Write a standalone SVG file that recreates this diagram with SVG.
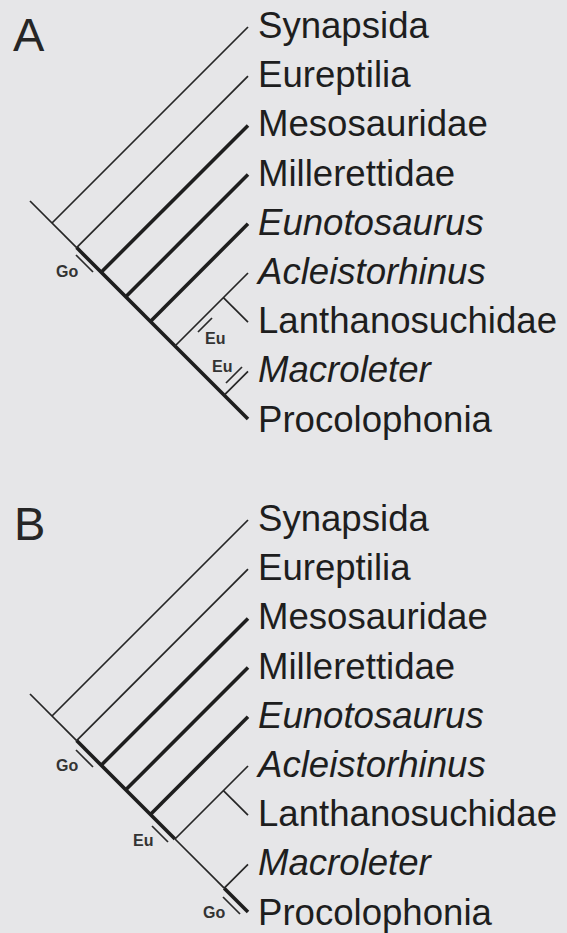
<svg xmlns="http://www.w3.org/2000/svg" width="567" height="933" viewBox="0 0 567 933">
<style>
.bg{fill:#e6e6e8}
.thin{stroke:#262626;stroke-width:1.7;fill:none;stroke-linecap:butt}
.thick{stroke:#1e1e1e;stroke-width:3.6;fill:none;stroke-linecap:butt}
.tick{stroke:#2a2a2a;stroke-width:1.7;fill:none}
.lab{font-family:"Liberation Sans",Arial,sans-serif;font-size:36.6px;fill:#1e1e1e}
.it{font-style:italic}
.panel{font-family:"Liberation Sans",Arial,sans-serif;font-size:47px;fill:#262626}
.mk{font-family:"Liberation Sans",Arial,sans-serif;font-size:16px;font-weight:bold;fill:#333}
</style>
<rect class="bg" x="0" y="0" width="567" height="933"/>

<!-- Panel A -->
<g id="panelA">
<text id="labelA" class="panel" x="13" y="51">A</text>
<g id="A-connectors">
<line class="thin" x1="30" y1="201" x2="76.6" y2="247.6"/>
<line class="thick" x1="76.6" y1="247.6" x2="248" y2="419"/>
<line class="thin" x1="52" y1="223" x2="248" y2="27"/>
<line class="thin" x1="76.6" y1="247.6" x2="248" y2="76.2"/>
<line class="thick" x1="101.2" y1="272.2" x2="248" y2="125.4"/>
<line class="thick" x1="125.8" y1="296.8" x2="248" y2="174.6"/>
<line class="thick" x1="150.4" y1="321.4" x2="248" y2="223.8"/>
<line class="thin" x1="175" y1="346" x2="248" y2="273"/>
<line class="thin" x1="223.4" y1="297.6" x2="248" y2="322.2"/>
<line class="thin" x1="224.2" y1="395.2" x2="248" y2="371.4"/>
</g>
<g id="A-marks">
<g id="A-go"><line class="tick" x1="76" y1="255" x2="93" y2="272"/><text class="mk" x="56" y="277">Go</text></g>
<g id="A-eu1"><line class="tick" x1="198" y1="332" x2="212" y2="318"/><text class="mk" x="205" y="344">Eu</text></g>
<g id="A-eu2"><line class="tick" x1="226" y1="383" x2="242" y2="367"/><text class="mk" x="212" y="372">Eu</text></g>
</g>
<g id="A-synapsida"><text class="lab" x="258" y="38">Synapsida</text></g>
<g id="A-eureptilia"><text class="lab" x="258" y="87.2">Eureptilia</text></g>
<g id="A-mesosauridae"><text class="lab" x="258" y="136.4">Mesosauridae</text></g>
<g id="A-millerettidae"><text class="lab" x="258" y="185.6">Millerettidae</text></g>
<g id="A-eunotosaurus"><text class="lab it" x="258" y="234.8">Eunotosaurus</text></g>
<g id="A-acleistorhinus"><text class="lab it" x="258" y="284">Acleistorhinus</text></g>
<g id="A-lanthanosuchidae"><text class="lab" x="258" y="333.2">Lanthanosuchidae</text></g>
<g id="A-macroleter"><text class="lab it" x="258" y="382.4">Macroleter</text></g>
<g id="A-procolophonia"><text class="lab" x="258" y="431.6">Procolophonia</text></g>
</g>

<!-- Panel B -->
<g id="panelB">
<text id="labelB" class="panel" x="14" y="540">B</text>
<g id="B-connectors">
<line class="thin" x1="30" y1="694" x2="76.6" y2="740.6"/>
<line class="thick" x1="76.6" y1="740.6" x2="175" y2="839"/>
<line class="thin" x1="175" y1="839" x2="224.2" y2="888.2"/>
<line class="thick" x1="224.2" y1="888.2" x2="248" y2="912"/>
<line class="thin" x1="52" y1="716" x2="248" y2="520"/>
<line class="thin" x1="76.6" y1="740.6" x2="248" y2="569.2"/>
<line class="thick" x1="101.2" y1="765.2" x2="248" y2="618.4"/>
<line class="thick" x1="125.8" y1="789.8" x2="248" y2="667.6"/>
<line class="thick" x1="150.4" y1="814.4" x2="248" y2="716.8"/>
<line class="thin" x1="175" y1="839" x2="248" y2="766"/>
<line class="thin" x1="223.4" y1="790.6" x2="248" y2="815.2"/>
<line class="thin" x1="224.2" y1="888.2" x2="248" y2="864.4"/>
</g>
<g id="B-marks">
<g id="B-go1"><line class="tick" x1="76" y1="750" x2="93" y2="767"/><text class="mk" x="56" y="771">Go</text></g>
<g id="B-eu"><line class="tick" x1="152" y1="826" x2="168" y2="842"/><text class="mk" x="133" y="846">Eu</text></g>
<g id="B-go2"><line class="tick" x1="223" y1="897" x2="240" y2="914"/><text class="mk" x="203" y="918">Go</text></g>
</g>
<g id="B-synapsida"><text class="lab" x="258" y="531">Synapsida</text></g>
<g id="B-eureptilia"><text class="lab" x="258" y="580.2">Eureptilia</text></g>
<g id="B-mesosauridae"><text class="lab" x="258" y="629.4">Mesosauridae</text></g>
<g id="B-millerettidae"><text class="lab" x="258" y="678.6">Millerettidae</text></g>
<g id="B-eunotosaurus"><text class="lab it" x="258" y="727.8">Eunotosaurus</text></g>
<g id="B-acleistorhinus"><text class="lab it" x="258" y="777">Acleistorhinus</text></g>
<g id="B-lanthanosuchidae"><text class="lab" x="258" y="826.2">Lanthanosuchidae</text></g>
<g id="B-macroleter"><text class="lab it" x="258" y="875.4">Macroleter</text></g>
<g id="B-procolophonia"><text class="lab" x="258" y="924.6">Procolophonia</text></g>
</g>
</svg>
